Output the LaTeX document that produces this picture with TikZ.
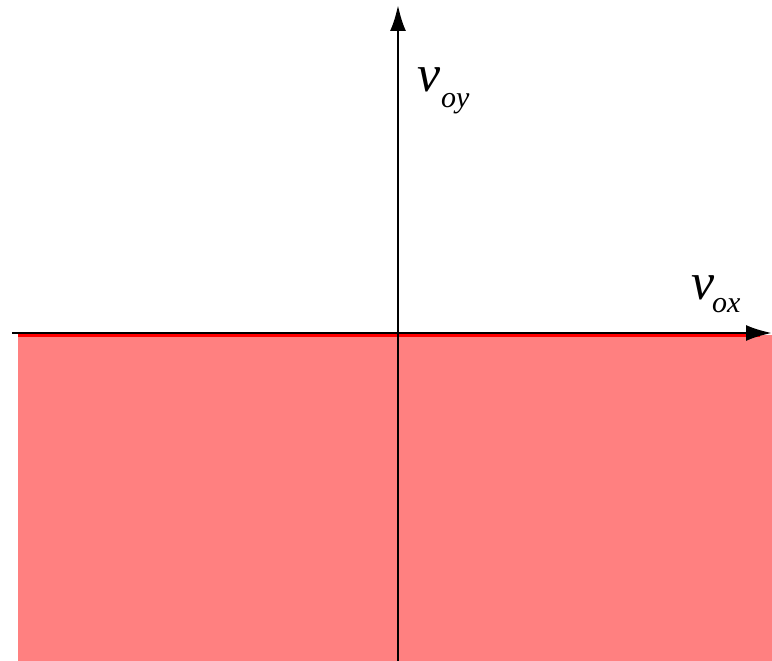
\documentclass[tikz,border=0pt]{standalone}
\usepackage{fontspec}
\newfontfamily\lblfont{Liberation Serif}
\usetikzlibrary{arrows.meta}
\definecolor{regionfill}{HTML}{FF8080}
\tikzset{
  axis/.style={line width=2.6pt, black, -{Latex[length=26pt,width=16pt]}},
  lbl/.style={anchor=base west, inner sep=0pt, font=\lblfont\fontsize{52}{52}\selectfont\itshape},
  sublbl/.style={anchor=base west, inner sep=0pt, font=\lblfont\fontsize{30}{30}\selectfont\itshape}
}
\begin{document}
\begin{tikzpicture}[x=1pt,y=1pt]
\useasboundingbox (0,0) rectangle (772,661);
\fill[regionfill] (18,0) rectangle (772,326);
\draw[red, line width=3pt] (18,325) -- (760,325);
\coordinate (xs) at (12,328);
\coordinate (xe) at (772,328);
\coordinate (ys) at (398,0);
\coordinate (ye) at (398,656);
\draw[axis] (xs) -- (xe);
\draw[axis] (ys) -- (ye);
\node[lbl] (vy) at (417,569) {v};
\node[sublbl] (vysub) at (441,553) {oy};
\node[lbl] (vx) at (691,361) {v};
\node[sublbl] (vxsub) at (712,348) {ox};
\end{tikzpicture}
\end{document}
